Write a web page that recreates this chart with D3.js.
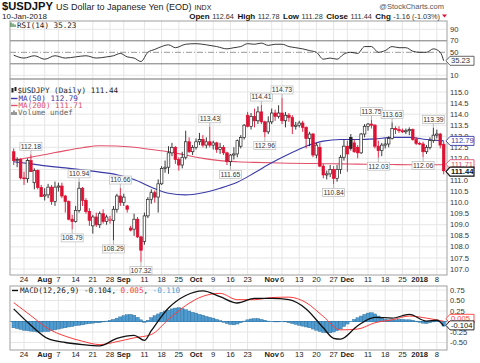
<!DOCTYPE html>
<html>
<head>
<meta charset="utf-8">
<script src="https://cdn.jsdelivr.net/npm/d3@7"></script>
<style>
  body { margin: 0; background: #fff; }
  svg { display: block; }
</style>
</head>
<body>
<script>
// trading days, Jul 19 2017 .. Jan 10 2018 (weekdays)
const dates = d3.timeDay.range(new Date(2017, 6, 19), new Date(2018, 0, 11))
  .filter(d => d.getDay() !== 0 && d.getDay() !== 6);

const opens = [112.30,111.90,111.95,111.12,111.08,111.90,110.90,111.45,110.68,110.30,
  110.35,110.70,110.05,110.70,110.75,110.30,110.05,109.25,109.15,109.65,
  110.65,110.10,109.60,108.95,109.35,109.00,109.50,109.15,109.20,109.20,
  109.70,110.30,110.00,109.85,108.85,108.80,109.25,108.45,108.25,109.40,
  110.15,110.45,110.25,110.85,111.55,111.60,112.25,112.50,111.95,111.70,
  112.05,112.75,112.30,112.50,112.75,112.85,112.60,112.75,112.60,112.70,
  112.40,112.50,112.25,111.85,112.15,112.20,112.55,112.95,113.95,113.45,
  113.90,113.70,114.10,113.65,113.20,113.65,114.05,113.90,114.05,113.70,
  113.95,113.85,113.45,113.50,113.60,113.40,112.90,113.10,112.15,112.50,
  111.65,111.25,111.30,111.50,111.10,111.50,112.05,112.55,112.95,112.70,
  112.50,112.25,113.10,113.45,113.55,113.50,112.55,112.35,112.60,112.65,
  112.90,113.35,113.30,113.25,113.20,113.25,113.30,112.85,112.68,112.65,
  112.30,112.50,112.80,113.05,113.10,112.64];
const highs = [112.45,112.05,112.00,111.40,112.00,112.18,111.55,111.50,110.80,110.65,
  110.85,110.80,110.95,110.90,110.90,110.35,110.10,109.45,109.85,110.94,
  110.70,110.20,109.75,109.45,109.55,109.60,109.70,109.45,109.40,109.85,
  110.40,110.66,110.40,109.90,108.95,109.50,109.35,108.50,109.55,110.25,
  110.60,110.55,111.05,111.65,111.90,112.55,112.70,112.55,112.05,112.30,
  113.25,112.95,112.60,112.90,113.15,113.05,112.95,113.43,112.80,112.75,
  112.70,112.60,112.30,112.20,112.50,112.85,113.05,113.55,114.10,114.05,
  114.25,114.35,114.41,113.70,113.90,114.25,114.20,114.40,114.73,114.10,
  114.05,113.95,113.65,113.70,113.70,113.45,113.20,113.15,112.70,112.70,
  111.75,111.45,111.70,111.65,111.70,112.15,112.85,112.80,113.10,112.85,
  112.60,113.15,113.55,113.60,113.75,113.55,112.80,112.70,112.90,113.00,
  113.63,113.45,113.45,113.35,113.35,113.40,113.35,112.95,112.75,112.75,
  112.60,112.95,113.39,113.30,113.15,112.78];
const lows = [111.70,111.60,111.05,110.80,110.90,111.40,110.60,110.60,110.25,110.10,
  110.20,109.90,109.85,110.50,110.20,109.55,109.20,108.79,109.10,109.55,
  109.85,109.50,108.95,108.60,108.90,108.85,109.05,109.00,109.05,108.29,
  109.55,109.85,109.85,109.55,108.70,108.50,108.40,107.32,108.10,109.30,
  109.95,110.00,109.55,110.80,111.35,111.30,112.10,111.75,111.45,111.55,
  111.95,112.25,112.15,112.40,112.60,112.50,112.45,112.50,112.40,112.25,
  112.20,112.15,111.70,111.65,111.95,112.05,112.45,112.85,113.40,113.30,
  113.40,113.55,113.55,112.96,113.10,113.55,113.70,113.80,113.55,113.40,
  113.65,113.10,113.30,113.40,113.20,112.45,112.55,112.05,112.00,111.60,
  111.10,111.05,111.15,110.84,110.95,111.30,111.90,111.40,112.35,112.25,
  112.00,112.20,112.95,113.25,113.35,112.45,112.03,112.10,112.45,112.50,
  112.85,113.10,113.15,113.15,113.10,113.05,112.80,112.60,112.60,112.06,
  112.20,112.40,112.70,112.90,112.45,111.28];
const closes = [111.90,111.95,111.12,111.08,111.90,111.40,111.45,110.68,110.27,110.35,
  110.70,110.05,110.70,110.75,110.30,110.05,109.25,109.15,109.65,110.65,
  110.10,109.60,109.20,109.35,109.00,109.50,109.15,109.35,109.25,109.70,
  110.30,110.00,110.25,109.70,108.76,109.25,108.45,107.85,109.40,110.15,
  110.45,110.25,110.85,111.55,111.60,112.25,112.50,111.95,111.70,112.05,
  112.75,112.30,112.50,112.75,112.85,112.60,112.75,112.60,112.70,112.40,
  112.50,112.25,111.85,112.15,112.20,112.80,112.95,113.50,113.45,113.90,
  113.70,114.10,113.65,113.20,113.65,114.05,113.90,114.05,113.70,113.95,
  113.85,113.45,113.50,113.60,113.40,112.90,113.10,112.15,112.60,111.65,
  111.25,111.30,111.50,111.10,111.50,112.05,112.55,112.20,112.45,112.30,
  112.25,113.10,113.45,113.55,113.50,112.55,112.35,112.60,112.65,112.90,
  113.35,113.30,113.25,113.20,113.25,113.30,112.85,112.68,112.65,112.30,
  112.50,112.80,113.05,113.10,112.60,111.44];

// moving averages every 5 days
const maDays = [0,5,10,15,20,25,30,35,40,45,50,55,60,65,70,75,80,85,90,95,100,105,110,115,120,125];
const ma50 = [111.85,111.75,111.65,111.57,111.48,111.38,111.26,111.05,110.70,110.42,110.35,110.45,110.65,
  110.92,111.35,111.80,112.20,112.55,112.78,112.85,112.85,112.88,112.95,112.95,112.85,112.79];
const ma200 = [111.92,112.05,112.20,112.35,112.48,112.57,112.56,112.50,112.40,112.30,112.15,112.00,111.90,
  111.85,111.82,111.80,111.78,111.77,111.76,111.75,111.74,111.73,111.72,111.71,111.71,111.71];

const rsiDays = [0,3,6,9,12,15,18,21,24,27,29,31,33,35,37,39,41,43,45,47,50,53,56,59,62,64,66,68,70,72,
  74,76,78,80,82,84,86,88,90,92,94,96,98,100,102,104,106,108,110,112,114,116,118,120,122,124,125];
const rsiVals = [45,40,44,38,44,40,42,44,40,42,44,48,42,40,34,50,55,60,63,58,64,65,63,60,56,58,60,65,64,66,
  62,64,64,60,58,56,53,50,38,40,38,47,50,48,60,60,50,53,60,58,58,52,50,50,56,50,35.23];

const macdDays = [0,5,10,15,20,25,30,35,38,40,45,50,55,60,65,70,75,80,85,90,93,95,100,105,110,115,120,123,125];
const macdVals = [0.30,-0.09,-0.41,-0.50,-0.55,-0.58,-0.40,-0.33,-0.45,-0.22,0.32,0.62,0.73,0.59,0.44,0.55,
  0.55,0.52,0.30,-0.15,-0.40,-0.42,-0.10,0.10,0.08,0.17,0.01,0.03,-0.104];
const signalDays = [0,5,10,15,20,25,30,35,40,45,50,55,60,65,70,75,80,85,90,95,100,105,110,115,120,125];
const signalVals = [0.45,0.14,-0.17,-0.35,-0.47,-0.55,-0.48,-0.39,-0.31,0.05,0.38,0.60,0.67,0.52,0.52,0.57,
  0.58,0.45,0.12,-0.20,-0.18,-0.03,0.04,0.13,0.08,0.005];
const histVals = [-0.15,-0.17,-0.19,-0.21,-0.22,-0.23,-0.24,-0.25,-0.25,-0.24,
  -0.24,-0.22,-0.20,-0.18,-0.16,-0.15,-0.13,-0.12,-0.10,-0.09,
  -0.08,-0.06,-0.05,-0.04,-0.03,-0.03,-0.01,0.01,0.03,0.05,
  0.08,0.11,0.14,0.16,0.17,0.15,0.10,0.04,-0.02,0.03,
  0.09,0.14,0.18,0.22,0.25,0.27,0.30,0.32,0.33,0.31,
  0.28,0.25,0.22,0.20,0.17,0.15,0.12,0.10,0.08,0.05,
  0.02,-0.02,-0.05,-0.07,-0.08,-0.06,-0.03,0.01,0.04,0.06,
  0.07,0.07,0.05,0.03,0.01,0.00,-0.01,-0.01,0.00,-0.01,
  -0.03,-0.05,-0.07,-0.09,-0.11,-0.13,-0.15,-0.18,-0.21,-0.24,
  -0.26,-0.27,-0.27,-0.25,-0.22,-0.18,-0.12,-0.06,0.00,0.05,
  0.09,0.13,0.17,0.20,0.21,0.18,0.13,0.08,0.05,0.04,
  0.04,0.04,0.05,0.05,0.04,0.04,0.03,0.01,-0.02,-0.04,
  -0.05,-0.03,-0.01,0.01,0.00,-0.11];

const highMarks = [[5,112.18],[19,110.94],[31,110.66],[57,113.43],[72,114.41],[78,114.73],[104,113.75],[110,113.63],[122,113.39]];
const lowMarks = [[17,108.79],[29,108.29],[37,107.32],[63,111.65],[73,112.96],[93,110.84],[106,112.03],[119,112.06]];

const xTicks = [["2017-07-24","24",0],["2017-08-01","Aug",1],["2017-08-07","7",0],["2017-08-14","14",0],
  ["2017-08-21","21",0],["2017-08-28","28",0],["2017-09-01","Sep",1],["2017-09-11","11",0],["2017-09-18","18",0],
  ["2017-09-25","25",0],["2017-10-02","Oct",1],["2017-10-09","9",0],["2017-10-16","16",0],["2017-10-23","23",0],
  ["2017-11-01","Nov",1],["2017-11-06","6",0],["2017-11-13","13",0],["2017-11-20","20",0],["2017-11-27","27",0],
  ["2017-12-01","Dec",1],["2017-12-11","11",0],["2017-12-18","18",0],["2017-12-25","25",0],["2018-01-01","2018",1],
  ["2018-01-08","8",0]];
const priceTicks = [107.0,107.5,108.0,108.5,109.0,109.5,110.0,110.5,111.0,111.5,112.0,112.5,113.0,113.5,114.0,114.5,115.0];
// labels hidden behind the value boxes in the reference are left out
const priceLabels = [107.0,107.5,108.0,108.5,109.0,109.5,110.0,110.5,111.0,112.0,112.5,113.0,113.5,114.0,114.5,115.0];
const rsiTicks = [90,70,50,30,10];
const rsiLabels = [90,70,50,10];
const macdTicks = [0.75,0.5,0.25,0,-0.25,-0.5];
const macdLabels = [0.75,0.5,0.25,-0.25,-0.5];

const W = 480, H = 363;
const left = 10, right = 447;
const RED = "#dd1133", BLUE_MA = "#3a3aa8", RED_MA = "#e2506a";
const grid = "#e6e6e6", border = "#a0a0a0";
const fmt = d3.timeFormat("%Y-%m-%d");

const svg = d3.select("body").append("svg").attr("width", W).attr("height", H)
  .style("font-family", "Liberation Sans, Arial, sans-serif");

const n = closes.length;
const x = d3.scalePoint().domain(d3.range(n)).range([13.7, 443.7]);
const yP = d3.scaleLinear().domain([107, 115]).range([269, 92]);
const yR = d3.scaleLinear().domain([10, 90]).range([75.3, 29.3]);
const yM = d3.scaleLinear().domain([-0.5, 0.75]).range([342.5, 290]);

const panels = [
  {id: "rsi", top: 21, bottom: 79},
  {id: "price", top: 79, bottom: 275},
  {id: "macd", top: 286, bottom: 350}
];
const tickIdx = xTicks.map(t => [dates.findIndex(d => fmt(d) === t[0]), t[1], t[2]]);

panels.forEach(p => {
  svg.append("g").selectAll("line").data(tickIdx).enter().append("line")
    .attr("x1", d => x(d[0])).attr("x2", d => x(d[0]))
    .attr("y1", p.top).attr("y2", p.bottom)
    .attr("stroke", grid).attr("stroke-width", 1);
  svg.append("clipPath").attr("id", "clip-" + p.id).append("rect")
    .attr("x", left).attr("y", p.top).attr("width", right - left).attr("height", p.bottom - p.top);
});

// horizontal grids
const hgrid = (ticks, y) => svg.append("g").selectAll("line").data(ticks).enter().append("line")
  .attr("x1", left).attr("x2", right).attr("y1", d => y(d)).attr("y2", d => y(d))
  .attr("stroke", grid).attr("stroke-width", 1);
hgrid(priceTicks, yP);
hgrid(macdTicks, yM);
hgrid([90, 10], yR);

// RSI reference lines
svg.append("g").selectAll("line").data([70, 30]).enter().append("line")
  .attr("x1", left).attr("x2", right).attr("y1", d => yR(d)).attr("y2", d => yR(d))
  .attr("stroke", "#777").attr("stroke-width", 1);
svg.append("line").attr("x1", left).attr("x2", right).attr("y1", yR(50)).attr("y2", yR(50))
  .attr("stroke", "#999").attr("stroke-dasharray", "6,2,1,2");

// RSI line
svg.append("path").datum(rsiDays.map((d, i) => [d, rsiVals[i]]))
  .attr("clip-path", "url(#clip-rsi)")
  .attr("d", d3.line().x(d => x(d[0])).y(d => yR(d[1])).curve(d3.curveMonotoneX))
  .attr("fill", "none").attr("stroke", "#222").attr("stroke-width", 0.9);

// moving averages
const maLine = d3.line().x(d => x(d[0])).y(d => yP(d[1])).curve(d3.curveMonotoneX);
svg.append("path").datum(maDays.map((d, i) => [d, ma200[i]])).attr("d", maLine)
  .attr("fill", "none").attr("stroke", RED_MA).attr("stroke-width", 1.1);
svg.append("path").datum(maDays.map((d, i) => [d, ma50[i]])).attr("d", maLine)
  .attr("fill", "none").attr("stroke", BLUE_MA).attr("stroke-width", 1.1);

// candles
const candles = svg.append("g").selectAll("g").data(d3.range(n)).enter().append("g");
const col = i => closes[i] < (i > 0 ? closes[i - 1] : opens[i]) ? RED : "#222";
candles.append("line")
  .attr("x1", i => x(i)).attr("x2", i => x(i))
  .attr("y1", i => yP(highs[i])).attr("y2", i => yP(lows[i]))
  .attr("stroke", col).attr("stroke-width", 0.9);
candles.append("rect")
  .attr("x", i => x(i) - 1.3).attr("width", 2.6)
  .attr("y", i => yP(Math.max(opens[i], closes[i])))
  .attr("height", i => Math.max(0.8, Math.abs(yP(opens[i]) - yP(closes[i]))))
  .attr("fill", i => closes[i] < opens[i] ? col(i) : "#fff")
  .attr("stroke", col).attr("stroke-width", 0.7);

// high / low value tags
const tag = (i, v, up) => {
  const cx = x(i), yy = yP(v);
  const cy = up ? yy - 8 : yy + 8.5;
  svg.append("line").attr("x1", cx).attr("x2", cx).attr("y1", yy).attr("y2", up ? cy + 3.5 : cy - 3.5)
    .attr("stroke", "#999").attr("stroke-width", 0.7);
  svg.append("rect").attr("x", cx - 11).attr("y", cy - 4).attr("width", 22).attr("height", 8)
    .attr("fill", "#fff").attr("stroke", "#bbb").attr("stroke-width", 0.7);
  svg.append("text").attr("x", cx).attr("y", cy + 2.4).attr("text-anchor", "middle")
    .attr("font-size", 6.8).attr("fill", "#333").text(v.toFixed(2));
};
highMarks.forEach(m => tag(m[0], m[1], true));
lowMarks.forEach(m => tag(m[0], m[1], false));

// MACD
svg.append("line").attr("x1", left).attr("x2", right).attr("y1", yM(0)).attr("y2", yM(0))
  .attr("stroke", "#4d9bd0").attr("stroke-width", 1);
svg.append("g").selectAll("rect").data(histVals).enter().append("rect")
  .attr("x", (d, i) => x(i) - 1.72).attr("width", 3.44)
  .attr("y", d => Math.min(yM(0), yM(d))).attr("height", d => Math.abs(yM(d) - yM(0)))
  .attr("fill", "#4d9bd0").attr("stroke", "#2b6a96").attr("stroke-width", 0.4);
const mLine = d3.line().x(d => x(d[0])).y(d => yM(d[1])).curve(d3.curveMonotoneX);
svg.append("path").datum(signalDays.map((d, i) => [d, signalVals[i]])).attr("d", mLine)
  .attr("fill", "none").attr("stroke", "#ff3b3b").attr("stroke-width", 1);
svg.append("path").datum(macdDays.map((d, i) => [d, macdVals[i]])).attr("d", mLine)
  .attr("fill", "none").attr("stroke", "#111").attr("stroke-width", 1.3);

// panel borders
panels.forEach(p => svg.append("rect").attr("x", left).attr("y", p.top)
  .attr("width", right - left).attr("height", p.bottom - p.top)
  .attr("fill", "none").attr("stroke", border).attr("stroke-width", 1));

// right axes
const rightAxis = (ticks, y, f) => svg.append("g").selectAll("text").data(ticks).enter().append("text")
  .attr("x", 450).attr("y", d => y(d) + 2.6).attr("font-size", 7.6).attr("fill", "#333").text(f);
rightAxis(priceLabels, yP, d => d.toFixed(1));
rightAxis(rsiLabels, yR, d => d);
rightAxis(macdLabels, yM, d => d.toFixed(2));

// x axis labels
[281.5, 357].forEach(yy => {
  svg.append("g").selectAll("text").data(tickIdx).enter().append("text")
    .attr("x", d => x(d[0])).attr("y", yy).attr("text-anchor", "middle")
    .attr("font-size", 7.6).attr("font-weight", d => d[2] ? "bold" : "normal")
    .attr("fill", "#222").text(d => d[1]);
});

// value boxes on the right
const box = (yy, label, stroke, color, bold) => {
  svg.append("path")
    .attr("d", `M446,${yy} L450,${yy - 4.5} L474,${yy - 4.5} L474,${yy + 4.5} L450,${yy + 4.5} Z`)
    .attr("fill", "#fff").attr("stroke", stroke).attr("stroke-width", bold ? 1.2 : 0.9);
  svg.append("text").attr("x", 451).attr("y", yy + 2.6).attr("font-size", 7.6)
    .attr("font-weight", bold ? "bold" : "normal").attr("fill", color).text(label);
};
box(yR(rsiVals[rsiVals.length - 1]), "35.23", "#555", "#333", false);
box(yP(ma50[ma50.length - 1]), "112.79", BLUE_MA, BLUE_MA, false);
box(yP(ma200[ma200.length - 1]) - 0.6, "111.71", RED_MA, RED_MA, false);
box(yP(closes[n - 1]) + 0.8, "111.44", "#111", "#111", true);
box(yM(0.005) - 2.5, "0.005", "#ff3b3b", "#ff3b3b", false);
box(yM(-0.104) - 0.5, "-0.104", "#111", "#111", false);

// legends
const mono = "DejaVu Sans Mono, monospace";
const legend = (xx, yy, txt, color) => svg.append("text").attr("x", xx).attr("y", yy)
  .attr("font-family", mono).attr("font-size", 7.6).attr("fill", color).text(txt);

svg.append("path").attr("d", "M11,22.5 L11,27 M13,23.5 L13,27 M15,24.5 L15,27").attr("stroke", "#3a7a3a").attr("stroke-width", 1.2);
legend(17, 28, "RSI(14) 35.23", "#222");

svg.append("rect").attr("x", 11.5).attr("y", 88).attr("width", 2).attr("height", 4.5).attr("fill", "#222");
svg.append("rect").attr("x", 14.5).attr("y", 87).attr("width", 2).attr("height", 4).attr("fill", "#222");
legend(17.5, 93, "$USDJPY (Daily) 111.44", "#222");
svg.append("line").attr("x1", 11).attr("x2", 17.5).attr("y1", 98.5).attr("y2", 98.5).attr("stroke", BLUE_MA).attr("stroke-width", 1.4);
legend(18.5, 101, "MA(50) 112.79", BLUE_MA);
svg.append("line").attr("x1", 11).attr("x2", 17.5).attr("y1", 105.5).attr("y2", 105.5).attr("stroke", RED_MA).attr("stroke-width", 1.4);
legend(18.5, 108, "MA(200) 111.71", RED_MA);
svg.append("path").attr("d", "M12,115 L12,112 M14,115 L14,110.5 M16,115 L16,112").attr("stroke", "#666").attr("stroke-width", 1.3);
legend(18, 115, "Volume undef", "#666");

svg.append("line").attr("x1", 12).attr("x2", 18).attr("y1", 290.5).attr("y2", 290.5).attr("stroke", "#111").attr("stroke-width", 1.4);
const ml = svg.append("text").attr("x", 20).attr("y", 293).attr("font-family", mono).attr("font-size", 7.6);
ml.append("tspan").attr("fill", "#222").text("MACD(12,26,9) -0.104, ");
ml.append("tspan").attr("fill", "#ff3b3b").text("0.005");
ml.append("tspan").attr("fill", "#222").text(", ");
ml.append("tspan").attr("fill", "#4d9bd0").text("-0.110");

// header
const h1 = svg.append("text").attr("x", 2).attr("y", 10);
h1.append("tspan").attr("font-weight", "bold").attr("font-size", 11.2).attr("fill", "#111").text("$USDJPY");
h1.append("tspan").attr("font-size", 9).attr("fill", "#222").attr("dx", 3).text("US Dollar to Japanese Yen (EOD)");
h1.append("tspan").attr("font-size", 7).attr("fill", "#222").attr("dx", 3).text("INDX");
svg.append("text").attr("x", 2).attr("y", 18.5).attr("font-size", 8).attr("fill", "#222").text("10-Jan-2018");
svg.append("text").attr("x", 444).attr("y", 8.5).attr("text-anchor", "end").attr("font-size", 7.5)
  .attr("fill", "#555").text("@StockCharts.com");

const quote = [["Open", "112.64"], ["High", "112.78"], ["Low", "111.28"], ["Close", "111.44"], ["Chg", "-1.16 (-1.03%)"]];
const q = svg.append("text").attr("x", 440).attr("y", 18.5).attr("text-anchor", "end").attr("fill", "#111");
quote.forEach((p, i) => {
  q.append("tspan").attr("font-weight", "bold").attr("font-size", 8).attr("dx", i ? 3.5 : 0).text(p[0]);
  q.append("tspan").attr("font-size", 7.3).attr("fill", "#333").attr("dx", 2.5).text(p[1]);
});
svg.append("path").attr("d", "M442,14.5 L447,14.5 L444.5,17.5 Z").attr("fill", RED);
</script>
</body>
</html>
